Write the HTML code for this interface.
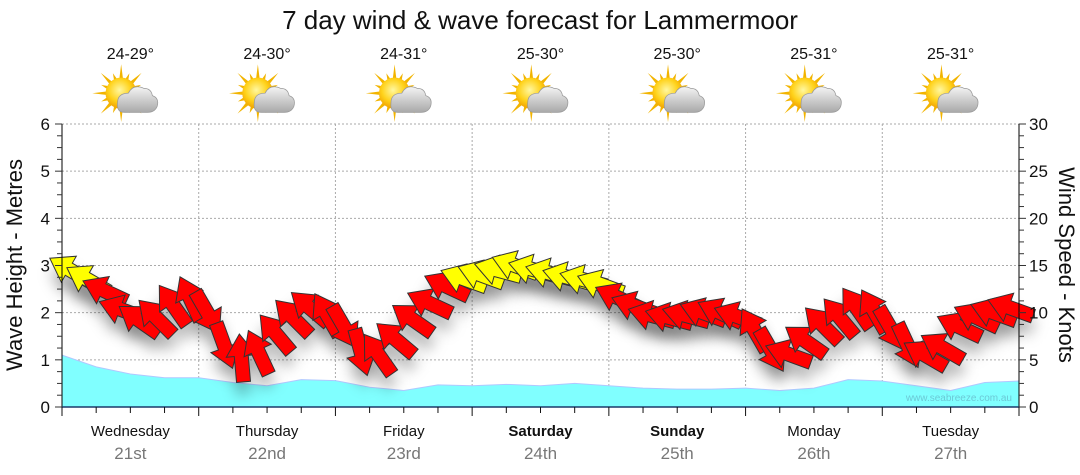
<!DOCTYPE html>
<html><head><meta charset="utf-8"><style>
body{margin:0;background:#fff;}
svg{display:block;font-family:"Liberation Sans","DejaVu Sans",sans-serif;}
</style></head><body>
<svg id="c" width="1080" height="475" viewBox="0 0 1080 475">
<defs>
<filter id="sh" x="-50%" y="-50%" width="200%" height="200%"><feGaussianBlur stdDeviation="7"/></filter>
<radialGradient id="sun" cx="0.45" cy="0.4" r="0.6"><stop offset="0" stop-color="#fff7a0"/><stop offset="0.6" stop-color="#ffd21a"/><stop offset="1" stop-color="#f0a000"/></radialGradient>
<linearGradient id="cl" x1="0" y1="0" x2="0" y2="1"><stop offset="0" stop-color="#f4f4f4"/><stop offset="1" stop-color="#a8a8a8"/></linearGradient>
</defs>
<text x="540" y="29" text-anchor="middle" font-size="26" fill="#111">7 day wind &amp; wave forecast for Lammermoor</text>
<g id="grid"></g>
<g id="wave"></g>
<g id="shadows"></g>
<g id="arrows"></g>
<g id="axes"></g>
<g id="hdr"></g>
<text x="1012" y="401" text-anchor="end" font-size="10" fill="#6cc9d6">www.seabreeze.com.au</text>
<text transform="translate(22,265) rotate(-90)" text-anchor="middle" font-size="22" fill="#111">Wave Height - Metres</text>
<text transform="translate(1059,265) rotate(90)" text-anchor="middle" font-size="22" fill="#111">Wind Speed - Knots</text>
</svg>
<script>
const days=["Wednesday","Thursday","Friday","Saturday","Sunday","Monday","Tuesday"];
const dates=["21st","22nd","23rd","24th","25th","26th","27th"];
const temps=["24-29°","24-30°","24-31°","25-30°","25-30°","25-31°","25-31°"];
const boldDays=[false,false,false,true,true,false,false];
const windKnots=[14.5,13.5,12.3,10.3,9.2,9.5,10.8,11.5,10,6.5,5.2,5.8,7.8,9.5,10.5,9.8,8.5,5.8,5.6,7.2,9.3,11,12.8,13.6,14,14.5,15,14.6,14.2,13.8,13.5,13,11.6,10.7,9.7,9.5,9.7,10,10,9.6,8.2,6,5.6,7,8.7,9.5,10.5,10.2,8.3,6.5,5.5,6.3,8.5,9.5,10,10.5];
const windDir=[210,210,205,200,215,225,235,245,60,70,265,245,230,225,220,240,60,75,235,220,215,205,205,200,200,195,200,195,195,195,195,200,205,200,195,195,195,200,205,200,240,60,200,215,225,230,235,240,60,65,210,210,205,205,200,200];
const waveM=[1.1,0.85,0.7,0.62,0.62,0.52,0.45,0.58,0.56,0.42,0.35,0.47,0.45,0.48,0.45,0.5,0.45,0.4,0.38,0.38,0.4,0.35,0.4,0.58,0.55,0.45,0.35,0.52,0.55];
const yTicksM=[0,1,2,3,4,5,6];
const yTicksK=[0,5,10,15,20,25,30];

const X0=62,X1=1019,Y0=407,Y1=124;
const dayW=(X1-X0)/7;
const xDay=d=>X0+d*dayW;
const xHour=h=>X0+h/24*dayW;
const yM=m=>Y0-m/6*(Y0-Y1);
const yK=k=>Y0-k/30*(Y0-Y1);
const NS="http://www.w3.org/2000/svg";
function mk(tag,attrs,parent){const e=document.createElementNS(NS,tag);for(const k in attrs)e.setAttribute(k,attrs[k]);parent.appendChild(e);return e;}
const G=id=>document.getElementById(id);

for(let d=1;d<7;d++){const l=mk('line',{x1:xDay(d),x2:xDay(d),y1:Y1,y2:Y0,stroke:'#aaa','stroke-dasharray':'2,2'},G('grid'));

}
yTicksM.slice(1).forEach(m=>{const l=mk('line',{x1:X0,x2:X1,y1:yM(m),y2:yM(m),stroke:'#aaa','stroke-dasharray':'2,2'},G('grid'));

});

let p='M'+X0+','+Y0;
waveM.forEach((m,i)=>{p+=' L'+xHour(i*6)+','+yM(m);});
p+=' L'+X1+','+Y0+' Z';
const wa=mk('path',{d:p,fill:'#80ffff',stroke:'#b0c8ff','stroke-width':1,'stroke-linejoin':'round'},G('wave'));



const arrowPts="24,0 2,-15 2,-7 -24,-7 -24,7 2,7 2,15";
windKnots.forEach((k,i)=>{
  const x=xHour(i*3+1.5),y=yK(k),a=windDir[i];
  const s=mk('polygon',{points:arrowPts,fill:'#000','fill-opacity':0.3,filter:'url(#sh)',transform:`translate(${x},${y+12}) rotate(${a})`},G('shadows'));
  
  
  const ar=mk('polygon',{points:arrowPts,fill:k>=13?'#ffff00':'#ff0000',stroke:'#333','stroke-width':1,transform:`translate(${x},${y}) rotate(${a})`},G('arrows'));
  
  
});

const ax=G('axes');
mk('line',{x1:X0,x2:X0,y1:Y1,y2:Y0,stroke:'#000'},ax);
mk('line',{x1:X1,x2:X1,y1:Y1,y2:Y0,stroke:'#000'},ax);
mk('line',{x1:X0,x2:X1,y1:Y0,y2:Y0,stroke:'#1a3a6a','stroke-width':1.5},ax);
for(let m=0;m<=6.001;m+=0.25){const yy=yM(m),maj=Math.abs(m-Math.round(m))<0.01;
 mk('line',{x1:X0-(maj?7:5),x2:X0,y1:yy,y2:yy,stroke:'#333'},ax);
 mk('line',{x1:X1,x2:X1+(maj?7:5),y1:yy,y2:yy,stroke:'#333'},ax);}
yTicksM.forEach(m=>{const t=mk('text',{x:50,y:yM(m)+6,'text-anchor':'end','font-size':17,fill:'#111'},ax);t.textContent=m;

});
yTicksK.forEach(k=>{const t=mk('text',{x:1029,y:yK(k)+6,'font-size':17,fill:'#111'},ax);t.textContent=k;

});
for(let h=0;h<=168;h+=6){const xx=xHour(h),maj=h%24===0;
 mk('line',{x1:xx,x2:xx,y1:Y0,y2:Y0+(maj?9:6),stroke:'#111'},ax);}
days.forEach((d,i)=>{const cx=xDay(i+0.5);
 const t=mk('text',{x:cx,y:436,'text-anchor':'middle','font-size':15,fill:'#111','font-weight':boldDays[i]?'bold':'normal'},ax);t.textContent=d;
 
 
 const t2=mk('text',{x:cx,y:459,'text-anchor':'middle','font-size':17,fill:'#777'},ax);t2.textContent=dates[i];
 
 
 const t3=mk('text',{x:cx,y:59,'text-anchor':'middle','font-size':16,fill:'#111'},G('hdr'));t3.textContent=temps[i];
 
 
 const g=mk('g',{transform:`translate(${cx-2},98) scale(1.2)`},G('hdr'));
 
 
 for(let r=0;r<16;r++){const an=r*22.5*Math.PI/180,L=r%2?18:24;
  mk('polygon',{points:`${-6+Math.cos(an)*L},${-4+Math.sin(an)*L} ${-6+Math.cos(an+0.15)*11},${-4+Math.sin(an+0.15)*11} ${-6+Math.cos(an-0.15)*11},${-4+Math.sin(an-0.15)*11}`,fill:'#f2b400'},g);}
 mk('circle',{cx:-6,cy:-4,r:13,fill:'url(#sun)'},g);
 mk('path',{d:'M-3,12 Q-10,12 -9,4 Q-9,-4 0,-4 Q4,-12 13,-8 Q19,-8 20,-2 Q26,0 24,7 Q22,12 16,12 Z',fill:'url(#cl)',stroke:'#999','stroke-width':0.6},g);
});
</script>
</body></html>
